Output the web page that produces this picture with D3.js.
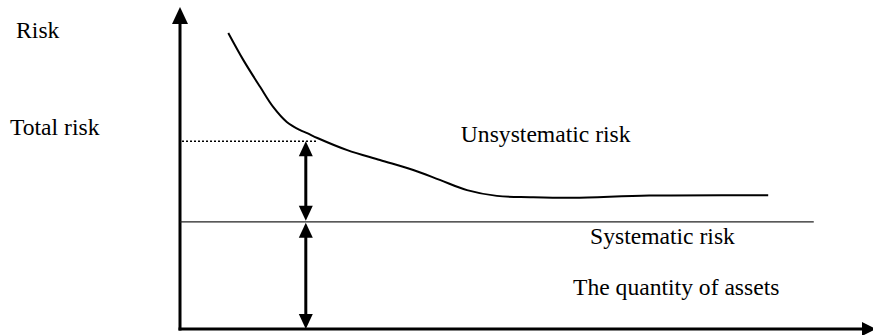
<!DOCTYPE html>
<html><head><meta charset="utf-8">
<script src="https://cdn.jsdelivr.net/npm/d3@7"></script>
<style>html,body{margin:0;padding:0;background:#fff;}svg{display:block;}</style>
</head><body>
<svg id="c" width="873" height="335"></svg>
<script>
// Data (abstract units: x = quantity of assets 0..100, y = risk 0..100)
const curveX = [7.1, 9.3, 11.8, 13.7, 15.7, 17.6, 18.7, 20.2, 24.6, 29.4, 34.3, 38.2, 42.2, 46.6, 51.5, 57.8, 69.0, 86.5];
const curveY = [92.5, 84.1, 75.6, 69.4, 64.7, 62.2, 61.2, 59.7, 55.9, 52.8, 49.7, 46.6, 43.4, 41.6, 41.2, 41.0, 41.7, 41.8];
const systematicRisk = 33.5;
const totalRisk = 58.7;
const systematicLineEnd = 93.2;
const arrowX = 18.5;
const labels = ["Risk", "Total risk", "Unsystematic risk", "Systematic risk", "The quantity of assets"];
const labelX = [-24.1, -25.0, 41.3, 60.3, 57.8];
const labelY = [90.9, 60.7, 58.4, 26.5, 10.6];

const W = 873, H = 335;
const svg = d3.select("#c");
const x = d3.scaleLinear().domain([0, 100]).range([180, 860]);
const y = d3.scaleLinear().domain([0, 100]).range([329, 9]);

// Axes
const axisW = 3;
svg.append("line").attr("x1", x(0)).attr("x2", x(0)).attr("y1", y(0) + 1.5).attr("y2", y(100) + 12)
  .attr("stroke", "#000").attr("stroke-width", axisW);
svg.append("path").attr("d", d3.line()([[x(0) - 8, y(100) + 15], [x(0), y(100) - 2], [x(0) + 8, y(100) + 15]]) + "Z").attr("fill", "#000");
svg.append("line").attr("x1", x(0) - 1.5).attr("x2", W - 8).attr("y1", y(0)).attr("y2", y(0))
  .attr("stroke", "#000").attr("stroke-width", axisW);
svg.append("path").attr("d", d3.line()([[W - 11, y(0) - 7], [W + 3, y(0)], [W - 11, y(0) + 7]]) + "Z").attr("fill", "#000");

// Systematic risk line
svg.append("line").attr("x1", x(0)).attr("x2", x(systematicLineEnd)).attr("y1", y(systematicRisk)).attr("y2", y(systematicRisk))
  .attr("stroke", "#222").attr("stroke-width", 1.2);

// Dotted total risk line
svg.append("line").attr("x1", x(0) + 2).attr("x2", x(arrowX) + 12).attr("y1", y(totalRisk)).attr("y2", y(totalRisk))
  .attr("stroke", "#000").attr("stroke-width", 1.5).attr("stroke-dasharray", "2,2");

// Curve
const pts = curveX.map((v, i) => [x(v), y(curveY[i])]);
svg.append("path").attr("d", d3.line().curve(d3.curveCatmullRom.alpha(0.5))(pts))
  .attr("fill", "none").attr("stroke", "#000").attr("stroke-width", 2);

// Double arrows
function dblArrow(yTop, yBot) {
  const ax = x(arrowX), hw = 7, hl = 15;
  svg.append("line").attr("x1", ax).attr("x2", ax).attr("y1", yTop + hl - 2).attr("y2", yBot - hl + 2)
    .attr("stroke", "#000").attr("stroke-width", 3);
  svg.append("path").attr("d", d3.line()([[ax - hw, yTop + hl], [ax, yTop], [ax + hw, yTop + hl]]) + "Z").attr("fill", "#000");
  svg.append("path").attr("d", d3.line()([[ax - hw, yBot - hl], [ax, yBot], [ax + hw, yBot - hl]]) + "Z").attr("fill", "#000");
}
dblArrow(y(totalRisk), y(systematicRisk) - 1);
dblArrow(y(systematicRisk) + 1, y(0));

// Labels
svg.selectAll("text.lbl").data(labels).enter().append("text").attr("class", "lbl")
  .attr("x", (d, i) => x(labelX[i])).attr("y", (d, i) => y(labelY[i]))
  .style("font-family", "'Liberation Serif', 'Times New Roman', Times, serif").style("font-size", "23.6px")
  .attr("fill", "#000").text(d => d);
</script>
</body></html>
